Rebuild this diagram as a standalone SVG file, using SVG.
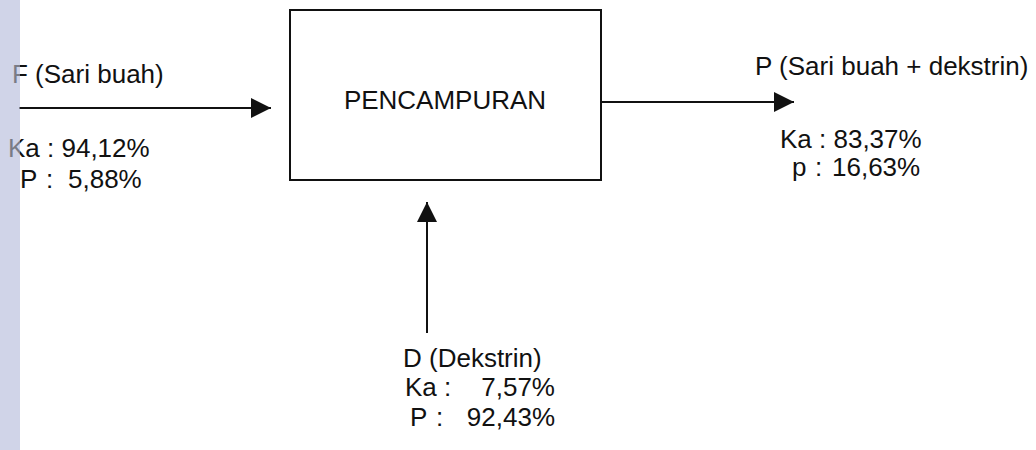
<svg xmlns="http://www.w3.org/2000/svg" width="1036" height="450" viewBox="0 0 1036 450">
  <style>
    .lbl { font-family: "Liberation Sans", Arial, sans-serif; font-size: 26px; fill: #111; }
    .box { fill: #fff; stroke: #111; stroke-width: 2; }
    .flow { stroke: #111; stroke-width: 2; fill: none; marker-end: url(#head); }
    .band { fill: #d0d4e8; }
  </style>
  <defs>
    <marker id="head" viewBox="0 0 20 20" refX="20" refY="10" markerWidth="20" markerHeight="20" markerUnits="userSpaceOnUse" orient="auto">
      <path d="M0,0 L20,10 L0,20 Z" fill="#111"/>
    </marker>
  </defs>
  <rect width="1036" height="450" fill="#fff"/>
  <!-- page edge band, under the labels -->
  <rect class="band" x="0" y="0" width="20" height="450"/>

  <!-- mixing unit -->
  <g id="mixer">
    <rect class="box" x="290" y="10" width="311" height="170"/>
    <text class="lbl" x="445" y="109" text-anchor="middle" font-size="27">PENCAMPURAN</text>
  </g>

  <!-- streams -->
  <g id="connectors">
    <line class="flow" x1="19" y1="108" x2="271" y2="108"/>
    <line class="flow" x1="601" y1="102" x2="794" y2="102"/>
    <line class="flow" x1="427" y1="333" x2="427" y2="202"/>
  </g>

  <g id="feed">
    <text class="lbl" x="12" y="83">F (Sari buah)</text>
    <text class="lbl" x="8" y="157" font-size="27">Ka : 94,12%</text>
    <text class="lbl" y="188" font-size="27"><tspan x="20">P</tspan><tspan x="46">:</tspan><tspan x="68">5,88%</tspan></text>
  </g>

  <g id="product">
    <text class="lbl" x="755" y="75">P (Sari buah + dekstrin)</text>
    <text class="lbl" x="780" y="148">Ka : 83,37%</text>
    <text class="lbl" y="176"><tspan x="792">p</tspan><tspan x="815">:</tspan><tspan x="832">16,63%</tspan></text>
  </g>

  <g id="dextrin">
    <text class="lbl" x="403" y="367">D (Dekstrin)</text>
    <text class="lbl" y="396"><tspan x="405">Ka :</tspan><tspan x="555" text-anchor="end">7,57%</tspan></text>
    <text class="lbl" y="426"><tspan x="410">P</tspan><tspan x="436">:</tspan><tspan x="555" text-anchor="end">92,43%</tspan></text>
  </g>

  <!-- page edge band, tinting the label letters that run over it -->
  <rect class="band" x="0" y="0" width="20" height="450" opacity="0.55"/>
</svg>
